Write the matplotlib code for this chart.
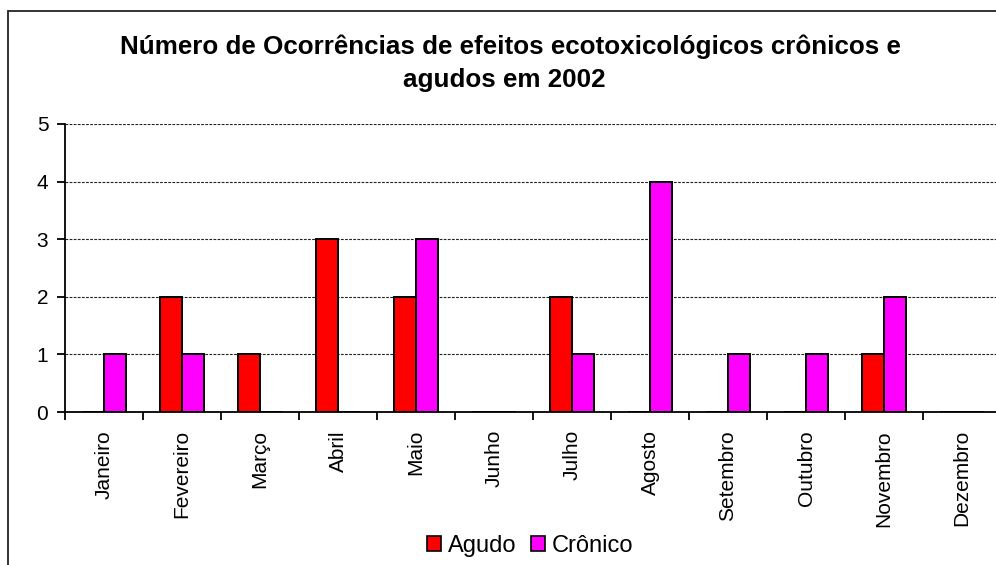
import matplotlib
matplotlib.use("Agg")
import matplotlib.pyplot as plt
from matplotlib.patches import Rectangle, Patch
import numpy as np

plt.rcParams['font.family'] = ['Liberation Sans', 'DejaVu Sans']

months = ["Janeiro", "Fevereiro", "Março", "Abril", "Maio", "Junho", "Julho",
          "Agosto", "Setembro", "Outubro", "Novembro", "Dezembro"]
agudo = [0, 2, 1, 3, 2, 0, 2, 0, 0, 0, 1, 0]
cronico = [1, 1, 0, 0, 3, 0, 1, 4, 1, 1, 2, 0]
yticks = [0, 1, 2, 3, 4, 5]
title_lines = ["Número de Ocorrências de efeitos ecotoxicológicos crônicos e",
               "agudos em 2002"]

W, H = 996, 565
fig = plt.figure(figsize=(W / 100, H / 100), dpi=100)

# outer chart border (left and top visible)
fig.patches.append(Rectangle((8 / W, -0.1), 1.2, (H - 11) / H + 0.1, transform=fig.transFigure,
                             fill=False, edgecolor='#222222', linewidth=1.3))

ax = fig.add_axes([65 / W, (H - 412) / H, (1001 - 65) / W, (412 - 124) / H])
x = np.arange(len(months))
bw = 0.282
ax.bar(x - bw / 2, agudo, bw, color='#FF0000', edgecolor='black', linewidth=1.4, label='Agudo', zorder=3)
ax.bar(x + bw / 2, cronico, bw, color='#FF00FF', edgecolor='black', linewidth=1.4, label='Crônico', zorder=3)

ax.set_xlim(-0.5, len(months) - 0.5)
ax.set_ylim(0, 5)
ax.set_yticks(yticks)
ax.set_yticklabels([str(v) for v in yticks], fontsize=15)
for v in yticks[1:]:
    ax.axhline(v, color='#222222', linestyle=(0, (2.5, 1.2)), linewidth=0.8, zorder=1)

ax.set_xticks(x)
ax.set_xticklabels(months, rotation=90, fontsize=15, va='top')
ax.tick_params(axis='x', which='major', length=0, pad=13)
ax.set_xticks(np.arange(len(months) + 1) - 0.5, minor=True)
ax.tick_params(axis='x', which='minor', length=6, width=1.3, direction='out')
ax.tick_params(axis='y', length=6, width=1.3, direction='out', pad=6)

for s in ['top', 'right']:
    ax.spines[s].set_visible(False)
for s in ['left', 'bottom']:
    ax.spines[s].set_linewidth(1.3)
    ax.spines[s].set_zorder(4)

fig.text(510 / W, 1 - 47 / H, title_lines[0], ha='center', va='center', fontsize=18.7, fontweight='bold')
fig.text(504 / W, 1 - 80 / H, title_lines[1], ha='center', va='center', fontsize=18.7, fontweight='bold')

handles = [Patch(facecolor='#FF0000', edgecolor='black', linewidth=1.2, label='Agudo'),
           Patch(facecolor='#FF00FF', edgecolor='black', linewidth=1.2, label='Crônico')]
fig.legend(handles=handles, loc='center', bbox_to_anchor=(530 / W, 1 - 546 / H), ncol=2,
           frameon=False, fontsize=17, handlelength=0.6, handleheight=0.6, handletextpad=0.3,
           columnspacing=0.6, borderpad=0)

fig.savefig("out.png", dpi=100)
